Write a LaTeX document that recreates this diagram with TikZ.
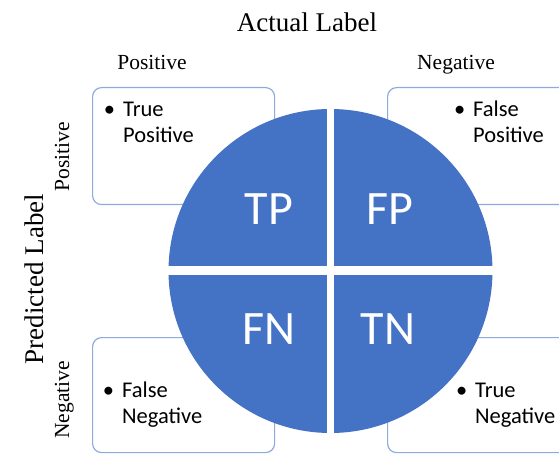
\documentclass[tikz,border=0pt]{standalone}
\usepackage{fontspec}
\setmainfont{Liberation Serif}
\newfontfamily\calibri{Carlito}
\usepackage{tikz}

\definecolor{quadblue}{RGB}{68,114,196}
\definecolor{boxline}{RGB}{143,170,220}

\newcommand{\bulletpair}[2]{\begin{tabular}[t]{@{}l@{}}\llap{\textbullet\hspace{8pt}}#1\\#2\end{tabular}}

\tikzset{
  cellbox/.style={draw=boxline, line width=1.2pt, rounded corners=9pt, fill=white, anchor=north west, inner sep=0pt},
  cellnote/.style={anchor=base west, inner sep=0pt, font=\calibri\fontsize{22.5}{26}\selectfont},
  quadlabel/.style={text=white, inner sep=0pt, font=\calibri\fontsize{48}{50}\selectfont},
  axislabel/.style={anchor=base, inner sep=0pt, font=\fontsize{27}{30}\selectfont},
  classlabel/.style={anchor=base, inner sep=0pt, font=\fontsize{21.5}{24}\selectfont}
}

\begin{document}
\begin{tikzpicture}[x=1pt,y=1pt,yscale=-1,xscale=1]
\useasboundingbox (0,0) rectangle (559,454);
\clip (0,0) rectangle (559,454);

%Shape: Rounded Rect [id:tpbox]
\node [cellbox, minimum width=182pt, minimum height=117pt] (tpbox) at (92,87) {};
%Shape: Rounded Rect [id:fpbox]
\node [cellbox, minimum width=190pt, minimum height=117pt] (fpbox) at (387,87) {};
%Shape: Rounded Rect [id:fnbox]
\node [cellbox, minimum width=182pt, minimum height=115pt] (fnbox) at (92,337) {};
%Shape: Rounded Rect [id:tnbox]
\node [cellbox, minimum width=190pt, minimum height=115pt] (tnbox) at (387,337) {};

%Shape: Circle [id:matrix]
\fill [quadblue] (330.5,271) circle [radius=162pt];
%Straight Lines [id:gaps]
\draw [white, line width=7.5pt] (330.5,100) -- (330.5,442);
\draw [white, line width=8.5pt] (160,270.5) -- (501,270.5);

% Text Node
\node [quadlabel] (tp) at (269,209) {TP};
% Text Node
\node [quadlabel] (fp) at (390,209) {FP};
% Text Node
\node [quadlabel] (fn) at (269,329) {FN};
% Text Node
\node [quadlabel] (tn) at (388,329) {TN};

% Text Node
\node [cellnote] (tpnote) at (123,117) {\bulletpair{True}{Positive}};
% Text Node
\node [cellnote] (fpnote) at (473,117) {\bulletpair{False}{Positive}};
% Text Node
\node [cellnote] (fnnote) at (122,397) {\bulletpair{False}{Negative}};
% Text Node
\node [cellnote] (tnnote) at (475,397) {\bulletpair{True}{Negative}};

% Text Node
\node [axislabel] (actual) at (307,32) {Actual Label};
% Text Node
\node [classlabel] (actpos) at (152,70) {Positive};
% Text Node
\node [classlabel] (actneg) at (456,70) {Negative};
% Text Node
\node [axislabel, rotate=90] (pred) at (43,279) {Predicted Label};
% Text Node
\node [classlabel, rotate=90] (predpos) at (69,157) {Positive};
% Text Node
\node [classlabel, rotate=90] (predneg) at (69,400) {Negative};

\end{tikzpicture}
\end{document}
